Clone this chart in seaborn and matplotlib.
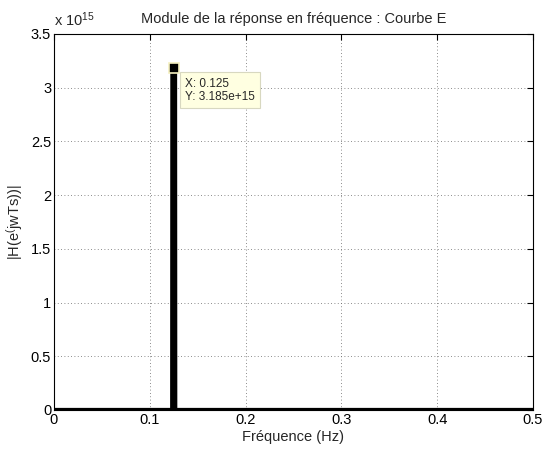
import numpy as np
import pandas as pd
import seaborn as sns
import matplotlib
matplotlib.use('Agg')
import matplotlib.pyplot as plt

# Données (module en unités de 1e15)
freq = [0.0, 0.1234, 0.1236, 0.125, 0.1264, 0.1266, 0.5]
module = [0.0, 0.0, 3.18, 3.185, 3.18, 0.0, 0.0]
pic_x = 0.125
pic_y = 3.185

sns.set_style('white')
plt.rcParams['font.family'] = ['Liberation Sans', 'DejaVu Sans']
plt.rcParams['mathtext.fontset'] = 'custom'
plt.rcParams['mathtext.rm'] = 'Liberation Sans'
plt.rcParams['mathtext.it'] = 'Liberation Sans'

df = pd.DataFrame({'f': freq, 'H': module})

fig = plt.figure(figsize=(5.45, 4.53), dpi=100)
ax = fig.add_axes([0.099, 0.095, 0.879, 0.830])

sns.lineplot(data=df, x='f', y='H', color='black', linewidth=3,
             estimator=None, sort=True, ax=ax)
ax.plot([pic_x], [pic_y], marker='s', markersize=7, color='black',
        markeredgecolor='#f5f0c0', markeredgewidth=1.2, zorder=5)

ax.annotate('X: 0.125\nY: 3.185e+15', xy=(pic_x, pic_y), xytext=(8, -7),
            textcoords='offset points', ha='left', va='top', fontsize=8.5,
            linespacing=1.15,
            bbox=dict(boxstyle='square,pad=0.45', facecolor='#ffffe1',
                      edgecolor='#d8d8c0', linewidth=0.8))

ax.set_xlim(0, 0.5)
ax.set_ylim(0, 3.5)
ax.set_xticks([0, 0.1, 0.2, 0.3, 0.4, 0.5])
ax.set_xticklabels(['0', '0.1', '0.2', '0.3', '0.4', '0.5'])
ax.set_yticks([0, 0.5, 1, 1.5, 2, 2.5, 3, 3.5])
ax.set_yticklabels(['0', '0.5', '1', '1.5', '2', '2.5', '3', '3.5'])
ax.grid(True, linestyle=(0, (1, 3)), color='#666666', linewidth=0.6)
ax.tick_params(direction='in', length=4, width=0.8, labelsize=10.5,
               top=True, right=True, colors='black', pad=2)
for s in ax.spines.values():
    s.set_color('black')
    s.set_linewidth(0.8)

ax.set_xlabel('Fréquence (Hz)', fontsize=10.5, labelpad=2)
ax.set_ylabel(r'|H(e$^{(}$jwTs))|', fontsize=10.5, labelpad=4)
ax.set_title('Module de la réponse en fréquence : Courbe E', fontsize=10.5, pad=8)
ax.text(0.0, 1.012, r'x 10$^{15}$', transform=ax.transAxes, fontsize=10.5,
        ha='left', va='bottom')

fig.savefig('out.png', dpi=100)
